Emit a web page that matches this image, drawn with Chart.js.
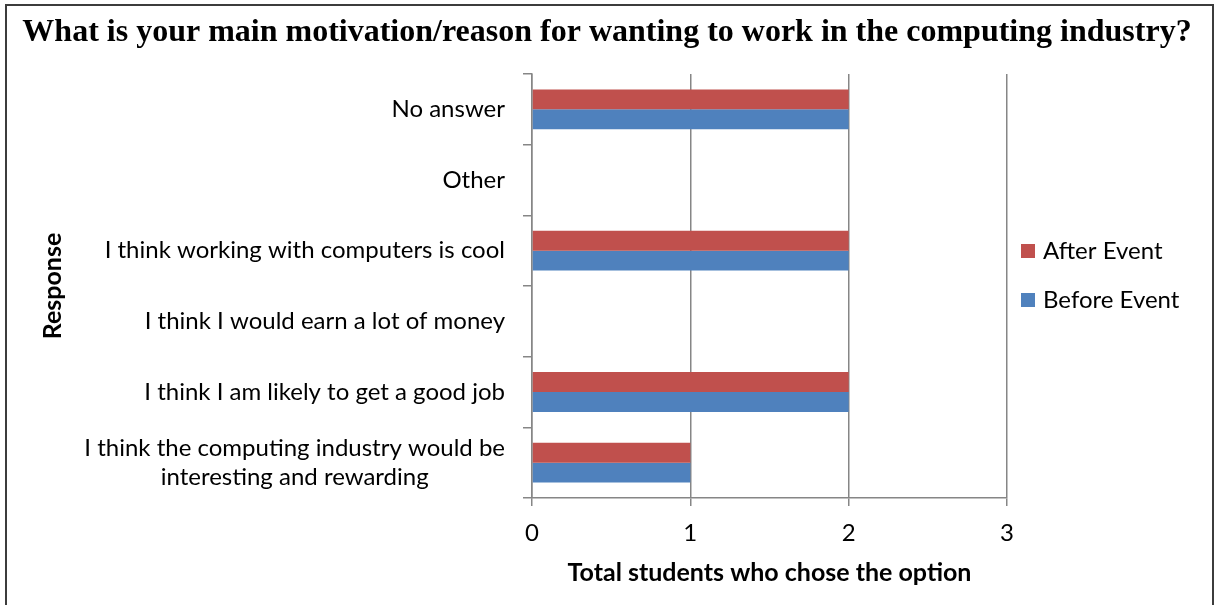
<!DOCTYPE html>
<html>
<head>
<meta charset="utf-8">
<title>Motivation survey</title>
<script src="https://cdn.jsdelivr.net/npm/chart.js@4.4.1/dist/chart.umd.min.js"></script>
<style>
  html, body { margin: 0; padding: 0; background: #fff; }
  #wrap { position: relative; width: 1222px; height: 605px; }
</style>
</head>
<body>
<div id="wrap"><canvas id="motivationChart" width="1222" height="605"></canvas></div>
<script>
const chartTitle = "What is your main motivation/reason for wanting to work in the computing industry?";
const responses = [
  "No answer",
  "Other",
  "I think working with computers is cool",
  "I think I would earn a lot of money",
  "I think I am likely to get a good job",
  ["I think the computing industry would be", "interesting and rewarding"]
];
const afterEvent = [2, 0, 2, 0, 2, 1];
const beforeEvent = [2, 0, 2, 0, 2, 1];
const xTicks = [0, 1, 2, 3];

const labelFont = "Lato, 'Open Sans', sans-serif";
const gridColor = "#868686";

// y labels: single lines right aligned, wrapped labels centred inside their block
const responseLabels = {
  id: "responseLabels",
  afterDraw(chart) {
    const ctx = chart.ctx;
    const yScale = chart.scales.y;
    const right = 505;
    ctx.save();
    ctx.font = "24px " + labelFont;
    ctx.fillStyle = "#000";
    ctx.textBaseline = "middle";
    ctx.textAlign = "center";
    yScale.ticks.forEach((tick, i) => {
      const lines = Array.isArray(responses[i]) ? responses[i] : [responses[i]];
      const widest = Math.max(...lines.map(l => ctx.measureText(l).width));
      const cx = right - widest / 2;
      const lh = 29;
      const y0 = yScale.getPixelForTick(i) - (lines.length - 1) * lh / 2;
      lines.forEach((line, j) => ctx.fillText(line, cx, y0 + j * lh));
    });
    ctx.restore();
  }
};

// title, legend and outer frame
const decorations = {
  id: "decorations",
  afterDraw(chart) {
    const ctx = chart.ctx;
    ctx.save();
    ctx.strokeStyle = "#3c3c3c";
    ctx.lineWidth = 2;
    ctx.strokeRect(6, 5, 1207, 620);

    ctx.font = "bold 32px 'Liberation Serif', 'Times New Roman', serif";
    ctx.fillStyle = "#000";
    ctx.textAlign = "center";
    ctx.textBaseline = "alphabetic";
    ctx.fillText(chartTitle, 607, 41);

    ctx.font = "24px " + labelFont;
    ctx.textAlign = "left";
    ctx.textBaseline = "middle";
    const rows = [251, 300];
    chart.data.datasets.forEach((ds, i) => {
      ctx.fillStyle = ds.backgroundColor;
      ctx.fillRect(1021, rows[i] - 7, 14, 14);
      ctx.fillStyle = "#000";
      ctx.fillText(ds.label, 1043, rows[i]);
    });
    ctx.restore();
  }
};

new Chart(document.getElementById("motivationChart"), {
  type: "bar",
  data: {
    labels: responses,
    datasets: [
      {
        label: "After Event",
        data: afterEvent,
        backgroundColor: "#C0504D",
        categoryPercentage: 0.563,
        barPercentage: 1.0
      },
      {
        label: "Before Event",
        data: beforeEvent,
        backgroundColor: "#4F81BD",
        categoryPercentage: 0.563,
        barPercentage: 1.0
      }
    ]
  },
  options: {
    indexAxis: "y",
    responsive: false,
    animation: false,
    layout: { padding: { top: 74, right: 215, bottom: 0, left: 0 } },
    plugins: {
      legend: { display: false },
      title: { display: false },
      tooltip: { enabled: false }
    },
    scales: {
      x: {
        min: 0,
        max: 3,
        afterBuildTicks: scale => { scale.ticks = xTicks.map(v => ({ value: v })); },
        afterFit: scale => { scale.height = 107; },
        grid: { color: gridColor, lineWidth: 1.5, tickLength: 8 },
        border: { color: gridColor, width: 1.5 },
        ticks: {
          color: "#000",
          padding: 13,
          font: { family: labelFont, size: 24 }
        },
        title: {
          display: true,
          text: "Total students who chose the option",
          color: "#000",
          font: { family: labelFont, size: 25, weight: "bold" },
          padding: { top: 0, bottom: 17 }
        }
      },
      y: {
        afterFit: scale => { scale.width = 532; },
        grid: { color: gridColor, lineWidth: 1.5, drawOnChartArea: false, tickLength: 9, offset: true },
        border: { color: gridColor, width: 1.5 },
        ticks: { color: "rgba(0,0,0,0)", font: { family: labelFont, size: 21 } },
        title: {
          display: true,
          text: "Response",
          color: "#000",
          font: { family: labelFont, size: 25, weight: "bold" },
          padding: { top: 38, bottom: 0 }
        }
      }
    }
  },
  plugins: [responseLabels, decorations]
});
</script>
</body>
</html>
